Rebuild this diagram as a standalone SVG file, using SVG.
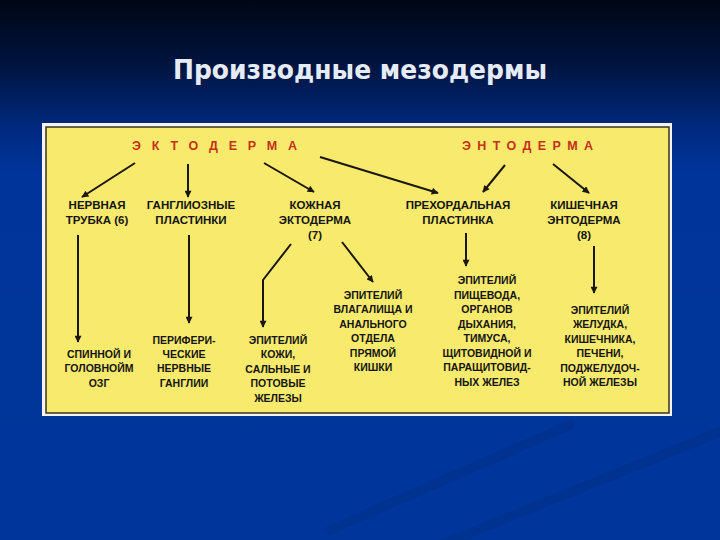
<svg xmlns="http://www.w3.org/2000/svg" width="720" height="540" viewBox="0 0 720 540">
<defs>
<linearGradient id="bg" x1="0" y1="0" x2="0" y2="1">
<stop offset="0" stop-color="#000614"/>
<stop offset="0.12" stop-color="#00143f"/>
<stop offset="0.24" stop-color="#002a80"/>
<stop offset="0.32" stop-color="#00349a"/>
<stop offset="1" stop-color="#00369b"/>
</linearGradient>
<marker id="ah" viewBox="0 0 10 10" refX="9" refY="5" markerWidth="10" markerHeight="7" markerUnits="userSpaceOnUse" orient="auto">
<path d="M0,0 L10,5 L0,10 z" fill="#1a1610"/>
</marker>
<style>
.t{font-family:"Liberation Sans",Arial,sans-serif;font-weight:bold;fill:#141414;text-anchor:middle}
.l2{font-size:11.5px}
.l3{font-size:10.5px}
.red{font-family:"Liberation Sans",Arial,sans-serif;font-weight:bold;fill:#c4301a;font-size:12.5px}
.c{stroke:#1a1610;stroke-width:2;fill:none;marker-end:url(#ah)}
</style>
</defs>
<rect width="720" height="540" fill="url(#bg)"/>
<g opacity="0.12" stroke="#001a50" stroke-width="10" stroke-linecap="round">
<line x1="330" y1="530" x2="570" y2="425"/>
<line x1="440" y1="545" x2="720" y2="432"/>
</g>
<text x="360" y="79" font-family="'DejaVu Sans Condensed','DejaVu Sans',sans-serif" font-weight="bold" font-size="26" fill="#e6ecf6" text-anchor="middle" textLength="374" lengthAdjust="spacingAndGlyphs">Производные мезодермы</text>
<rect x="42" y="123" width="630" height="293" fill="#f4f4f0"/>
<rect x="46" y="127" width="623" height="286" fill="#f7ea6c" stroke="#3a3222" stroke-width="1.5"/>
<g id="ectoderm"><text class="red" x="132" y="150" textLength="165" lengthAdjust="spacing">ЭКТОДЕРМА</text></g>
<g id="endoderm"><text class="red" x="462" y="150" textLength="131" lengthAdjust="spacing">ЭНТОДЕРМА</text></g>
<g id="neural-tube"><text class="t l2" x="97" y="209">НЕРВНАЯ</text><text class="t l2" x="97" y="224">ТРУБКА (6)</text></g>
<g id="ganglion-plates"><text class="t l2" x="191" y="209">ГАНГЛИОЗНЫЕ</text><text class="t l2" x="191" y="224">ПЛАСТИНКИ</text></g>
<g id="skin-ectoderm"><text class="t l2" x="315" y="209">КОЖНАЯ</text><text class="t l2" x="315" y="224">ЭКТОДЕРМА</text><text class="t l2" x="315" y="239">(7)</text></g>
<g id="prechordal-plate"><text class="t l2" x="458" y="209">ПРЕХОРДАЛЬНАЯ</text><text class="t l2" x="458" y="224">ПЛАСТИНКА</text></g>
<g id="gut-endoderm"><text class="t l2" x="584" y="209">КИШЕЧНАЯ</text><text class="t l2" x="584" y="224">ЭНТОДЕРМА</text><text class="t l2" x="584" y="239">(8)</text></g>
<g id="brain"><text class="t l3" x="99" y="358">СПИННОЙ И</text><text class="t l3" x="99" y="372">ГОЛОВНОЙМ</text><text class="t l3" x="99" y="387">ОЗГ</text></g>
<g id="peripheral-ganglia"><text class="t l3" x="184" y="344">ПЕРИФЕРИ-</text><text class="t l3" x="184" y="358">ЧЕСКИЕ</text><text class="t l3" x="184" y="372">НЕРВНЫЕ</text><text class="t l3" x="184" y="387">ГАНГЛИИ</text></g>
<g id="skin-epithelium"><text class="t l3" x="278" y="344">ЭПИТЕЛИЙ</text><text class="t l3" x="278" y="358">КОЖИ,</text><text class="t l3" x="278" y="373">САЛЬНЫЕ И</text><text class="t l3" x="278" y="387">ПОТОВЫЕ</text><text class="t l3" x="278" y="402">ЖЕЛЕЗЫ</text></g>
<g id="vaginal-epithelium"><text class="t l3" x="373" y="299">ЭПИТЕЛИЙ</text><text class="t l3" x="373" y="313">ВЛАГАЛИЩА И</text><text class="t l3" x="373" y="328">АНАЛЬНОГО</text><text class="t l3" x="373" y="342">ОТДЕЛА</text><text class="t l3" x="373" y="357">ПРЯМОЙ</text><text class="t l3" x="373" y="371">КИШКИ</text></g>
<g id="esophagus-epithelium"><text class="t l3" x="487" y="284">ЭПИТЕЛИЙ</text><text class="t l3" x="487" y="299">ПИЩЕВОДА,</text><text class="t l3" x="487" y="313">ОРГАНОВ</text><text class="t l3" x="487" y="328">ДЫХАНИЯ,</text><text class="t l3" x="487" y="342">ТИМУСА,</text><text class="t l3" x="487" y="357">ЩИТОВИДНОЙ И</text><text class="t l3" x="487" y="371">ПАРАЩИТОВИД-</text><text class="t l3" x="487" y="386">НЫХ ЖЕЛЕЗ</text></g>
<g id="stomach-epithelium"><text class="t l3" x="600" y="314">ЭПИТЕЛИЙ</text><text class="t l3" x="600" y="328">ЖЕЛУДКА,</text><text class="t l3" x="600" y="343">КИШЕЧНИКА,</text><text class="t l3" x="600" y="357">ПЕЧЕНИ,</text><text class="t l3" x="600" y="372">ПОДЖЕЛУДОЧ-</text><text class="t l3" x="600" y="386">НОЙ ЖЕЛЕЗЫ</text></g>
<g id="connectors">
<line class="c" x1="135" y1="163" x2="82" y2="197"/>
<line class="c" x1="188" y1="164" x2="188" y2="197"/>
<line class="c" x1="264" y1="163" x2="314" y2="192"/>
<line class="c" x1="320" y1="157" x2="438" y2="193"/>
<line class="c" x1="505" y1="165" x2="483" y2="192"/>
<line class="c" x1="553" y1="164" x2="589" y2="193"/>
<line class="c" x1="78" y1="235" x2="78" y2="342"/>
<line class="c" x1="189" y1="235" x2="189" y2="323"/>
<polyline class="c" points="291,244 263,280 263,327"/>
<line class="c" x1="342" y1="242" x2="373" y2="282"/>
<line class="c" x1="466" y1="233" x2="466" y2="266"/>
<line class="c" x1="594" y1="246" x2="594" y2="293"/>
</g>
</svg>
